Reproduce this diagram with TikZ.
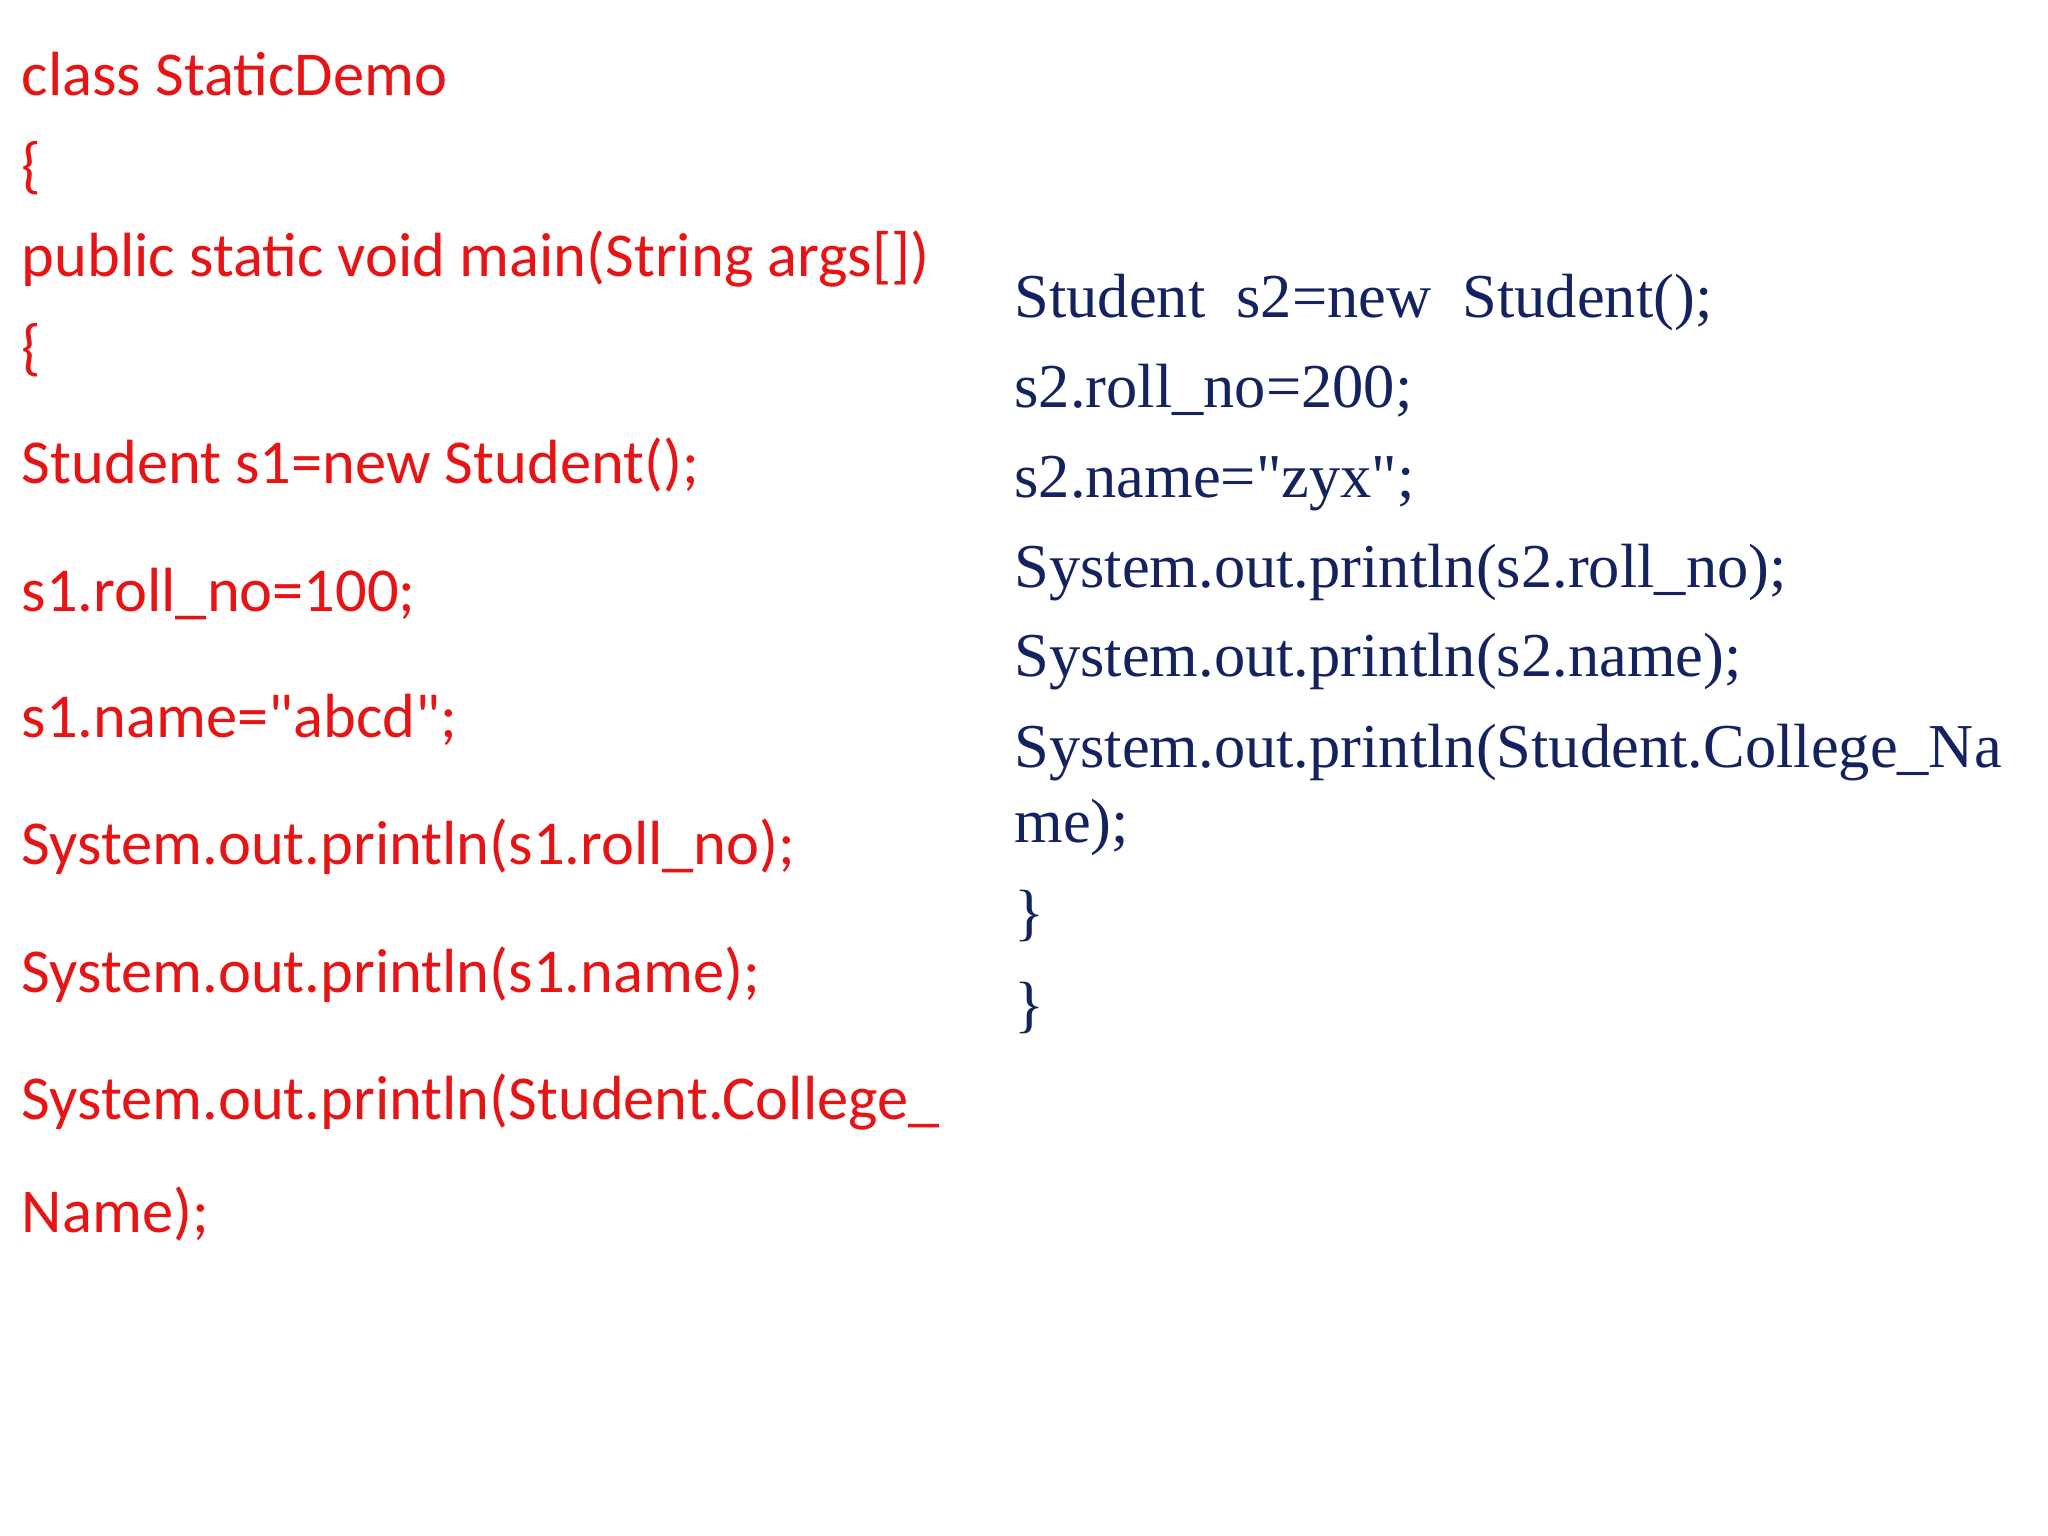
\documentclass[tikz,border=0pt]{standalone}
\usepackage{fontspec}
\newfontfamily\serifnomap{Liberation Serif}
\newfontfamily\calib{Carlito}
\definecolor{redc}{RGB}{230,20,20}
\definecolor{navyc}{RGB}{20,35,95}
\begin{document}
\begin{tikzpicture}[x=0.01cm,y=-0.01cm,
  lt/.style={anchor=base west,inner sep=0pt,text=redc,font=\calib\fontsize{13.6}{16}\selectfont},
  rt/.style={anchor=base west,inner sep=0pt,text=navyc,font=\serifnomap\fontsize{13.6}{16}\selectfont}]
\useasboundingbox (0,0) rectangle (1568,1176);
\node[lt] (l1) at (16,73) {class StaticDemo};
\node[lt] (l2) at (16,143) {\{};
\node[lt] (l3) at (16,212) {public static void main(String args[])};
\node[lt] (l4) at (16,282) {\{};
\node[lt] (l5) at (16,370) {Student s1=new Student();};
\node[lt] (l6) at (16,468) {s1.roll\_no=100;};
\node[lt] (l7) at (16,565) {s1.name="abcd";};
\node[lt] (l8) at (16,662) {System.out.println(s1.roll\_no);};
\node[lt] (l9) at (16,760) {System.out.println(s1.name);};
\node[lt] (l10) at (16,857) {System.out.println(Student.College\_};
\node[lt] (l11) at (16,944) {Name);};
\node[rt] (r1) at (776,243) {Student\ \ s2=new\ \ Student();};
\node[rt] (r2) at (776,312) {s2.roll\_no=200;};
\node[rt] (r3) at (776,381) {s2.name="zyx";};
\node[rt] (r4) at (776,450) {System.out.println(s2.roll\_no);};
\node[rt] (r5) at (776,518) {System.out.println(s2.name);};
\node[rt] (r6) at (776,588) {System.out.println(Student.College\_Na};
\node[rt] (r7) at (776,645) {me);};
\node[rt] (r8) at (776,715) {\}};
\node[rt] (r9) at (776,785) {\}};
\end{tikzpicture}
\end{document}
